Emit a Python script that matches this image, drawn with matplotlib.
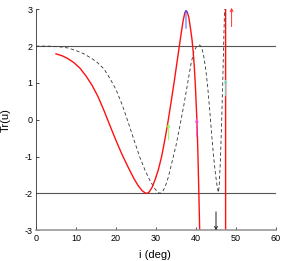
import numpy as np
import matplotlib
matplotlib.use('Agg')
import matplotlib.pyplot as plt

# red curve (solid)
red_i = [5, 6.5, 8, 9.5, 11, 12.5, 14, 15.5, 17, 18.5, 20, 21.5, 23, 24.5, 25.5,
         26.5, 27.2, 27.7, 28.3, 29, 29.8, 30.6, 31.4, 32.2, 33, 33.8, 34.6, 35.3,
         35.9, 36.4, 36.8, 37.2, 37.5, 37.8, 38.2, 38.6, 39.0, 39.3, 39.6, 39.9,
         40.2, 40.45, 40.65, 40.8, 40.92,
         np.nan, 47.4, 47.4]
red_tr = [1.79, 1.74, 1.66, 1.55, 1.40, 1.19, 0.94, 0.63, 0.25, -0.16, -0.56,
          -0.94, -1.28, -1.6, -1.78, -1.92, -1.98, -2.0, -1.96, -1.84, -1.62,
          -1.35, -1.0, -0.55, -0.05, 0.5, 1.07, 1.6, 2.05, 2.42, 2.7, 2.9, 2.96,
          2.93, 2.78, 2.5, 2.18, 1.85, 1.4, 0.8, 0.05, -0.8, -1.7, -2.4, -3.0,
          np.nan, -3.0, 3.0]

# dashed curve
dash_i = [0, 3, 6, 8, 10, 12, 14, 15.5, 17, 18.5, 20, 21.5, 23, 24.5, 26, 27.3,
          28.5, 29.5, 30.3, 31, 31.6, 32.3, 33.1, 34, 35, 36, 37, 38, 38.8, 39.5,
          40.2, 40.9, 41.4, 41.9, 42.4, 42.9, 43.4, 43.9, 44.4, 44.9, 45.3, 45.6,
          45.8, 46.1, 46.4, 46.7, 46.95, 47.15]
dash_tr = [2.0, 2.0, 1.98, 1.95, 1.88, 1.79, 1.66, 1.54, 1.38, 1.12, 0.82, 0.42,
           -0.05, -0.55, -1.03, -1.38, -1.65, -1.84, -1.95, -2.0, -1.96, -1.82,
           -1.55, -1.15, -0.7, -0.15, 0.42, 1.05, 1.55, 1.86, 2.0, 2.03, 1.97,
           1.75, 1.4, 0.92, 0.3, -0.38, -1.0, -1.5, -1.82, -1.97, -1.8, -1.1,
           -0.1, 1.1, 2.2, 3.0]

# arrows: position, start, end, colour
arr_i = [37.5, 33.1, 40.2, 47.4, 48.9, 45.0]
arr_y0 = [2.48, -0.55, -0.46, 0.65, 2.53, -2.5]
arr_y1 = [3.0, -0.1, 0.04, 1.1, 3.04, -3.0]
arr_col = ['#4060ff', '#90ff50', '#f050f0', '#70e0c8', '#ff3030', '#202020']

bands = [2, -2]
xticks = [0, 10, 20, 30, 40, 50, 60]
yticks = [-3, -2, -1, 0, 1, 2, 3]

plt.rcParams['font.family'] = ['Liberation Sans', 'DejaVu Sans']
plt.rcParams['axes.unicode_minus'] = False

fig = plt.figure(figsize=(2.86, 2.61), dpi=100)
ax = fig.add_axes([36/286, 30.7/261, 240/286, 221/261])

for b in bands:
    ax.plot([0, 60], [b, b], color='#555555', lw=0.8)

ax.plot(dash_i, dash_tr, color='#333333', lw=0.6, dashes=(4, 3))
ax.plot(red_i, red_tr, color='#ff1010', lw=1.0)

for xi, y0, y1, c in zip(arr_i, arr_y0, arr_y1, arr_col):
    ax.annotate('', xy=(xi, y1), xytext=(xi, y0), annotation_clip=False,
                arrowprops=dict(arrowstyle='->', color=c, lw=0.7,
                                shrinkA=0, shrinkB=0, mutation_scale=5))

ax.set_xlim(0, 60)
ax.set_ylim(-3, 3)
ax.set_xticks(xticks)
ax.set_yticks(yticks)
ax.tick_params(direction='in', length=2.5, width=0.5, labelsize=6.5, pad=2.5)
ax.spines['top'].set_visible(False)
ax.spines['right'].set_visible(False)
ax.spines['left'].set_color('#333333')
ax.spines['left'].set_linewidth(0.6)
ax.spines['bottom'].set_color('#999999')
ax.spines['bottom'].set_linewidth(1.2)

ax.set_xlabel('i (deg)', fontsize=8)
ax.set_ylabel('Tr(u)', fontsize=8)
ax.xaxis.set_label_coords(0.495, -0.087)
ax.yaxis.set_label_coords(-0.106, 0.5)

fig.savefig('out.png', dpi=100)
